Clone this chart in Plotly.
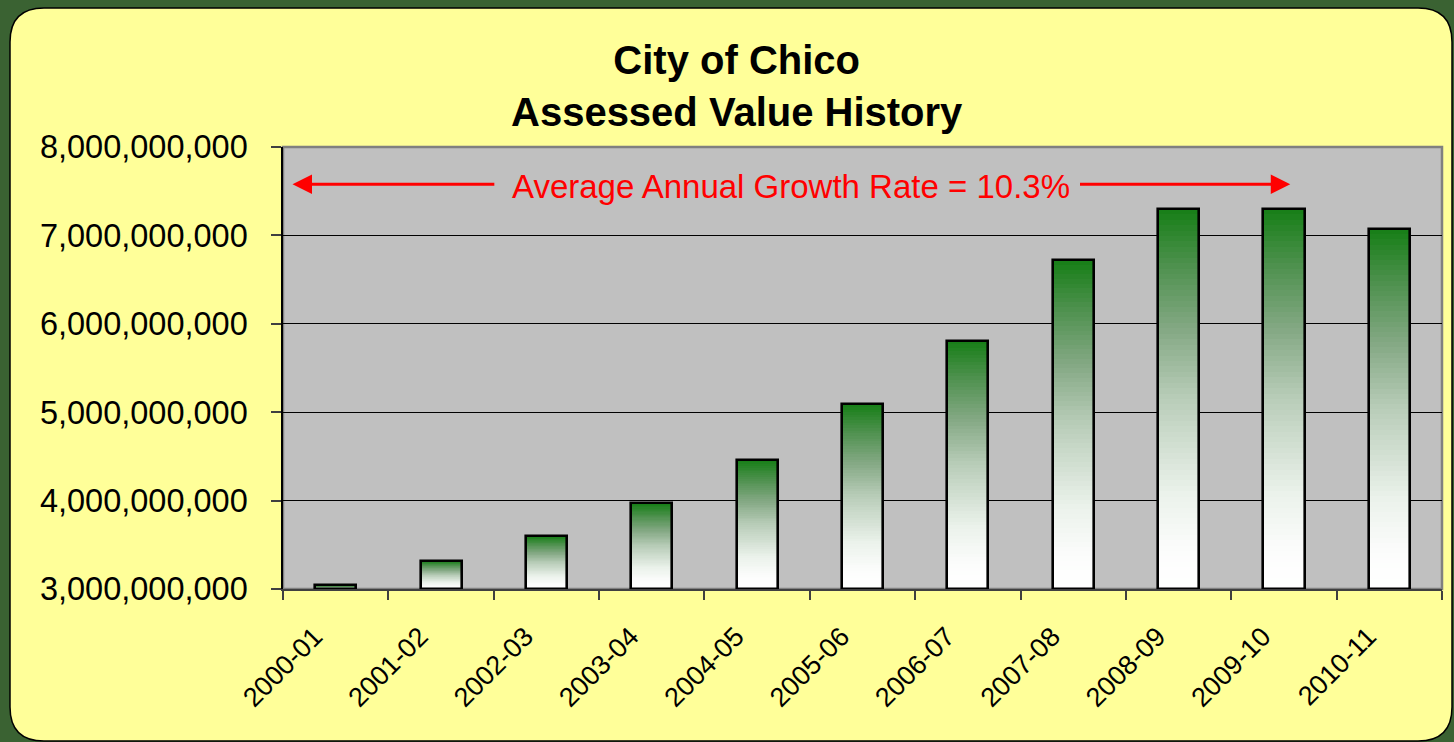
import plotly.graph_objects as go

# ---- data ----
categories = ["2000-01", "2001-02", "2002-03", "2003-04", "2004-05", "2005-06",
              "2006-07", "2007-08", "2008-09", "2009-10", "2010-11"]
assessed_values = [3.04e9, 3.32e9, 3.60e9, 3.97e9, 4.46e9, 5.09e9,
                   5.81e9, 6.72e9, 7.30e9, 7.30e9, 7.07e9]
y_min, y_max, y_step = 3e9, 8e9, 1e9
growth_label = "Average Annual Growth Rate = 10.3%"
title_lines = ["City of Chico", "Assessed Value History"]

# ---- layout geometry (pixels) ----
W, H = 1454, 742
L, R, T, B = 283, 12, 147, 153
PW, PH = W - L - R, H - T - B

def px_x(px):
    return (px - L) / PW

def px_y(py):
    return (H - B - py) / PH

FONT = "Arial, 'Liberation Sans', sans-serif"

# gradient colour stops (fraction of bar height measured from the top -> rgb)
grad_stops = [(0.0, (22, 126, 22)), (0.15, (78, 145, 78)), (0.31, (130, 167, 130)),
              (0.5, (185, 205, 185)), (0.75, (235, 242, 235)),
              (0.9, (252, 253, 252)), (1.0, (255, 255, 255))]

def grad_color(d):
    for (d0, c0), (d1, c1) in zip(grad_stops[:-1], grad_stops[1:]):
        if d0 <= d <= d1:
            f = (d - d0) / (d1 - d0)
            return "rgb(%d,%d,%d)" % tuple(round(c0[i] + f * (c1[i] - c0[i])) for i in range(3))
    return "rgb(255,255,255)"

fig = go.Figure()

# gradient bars: stacked slices of each bar, white at bottom -> green at top
N = 70
heights = [v - y_min for v in assessed_values]
for k in range(N):
    d = 1 - (k + 0.5) / N
    fig.add_trace(go.Bar(
        x=categories,
        y=[h / N * 1.03 for h in heights],
        base=[y_min + h * k / N for h in heights],
        marker=dict(color=grad_color(d), line=dict(width=0)),
        width=0.39,
        hoverinfo="skip",
        showlegend=False,
    ))

# outline of each bar
fig.add_trace(go.Bar(
    x=categories,
    y=heights,
    base=[y_min] * len(heights),
    marker=dict(color="rgba(0,0,0,0)", line=dict(color="black", width=2.6)),
    width=0.39,
    showlegend=False,
    hovertemplate="%{x}: %{customdata:,.0f}<extra></extra>",
    customdata=assessed_values,
))

# ---- background panel (rounded yellow) and gray plot area ----
x0, y0, x1, y1, r = 10, 8, 1452, 741, 34
path = (
    f"M {px_x(x0 + r)},{px_y(y0)} "
    f"L {px_x(x1 - r)},{px_y(y0)} "
    f"Q {px_x(x1)},{px_y(y0)} {px_x(x1)},{px_y(y0 + r)} "
    f"L {px_x(x1)},{px_y(y1 - r)} "
    f"Q {px_x(x1)},{px_y(y1)} {px_x(x1 - r)},{px_y(y1)} "
    f"L {px_x(x0 + r)},{px_y(y1)} "
    f"Q {px_x(x0)},{px_y(y1)} {px_x(x0)},{px_y(y1 - r)} "
    f"L {px_x(x0)},{px_y(y0 + r)} "
    f"Q {px_x(x0)},{px_y(y0)} {px_x(x0 + r)},{px_y(y0)} Z"
)
shapes = [
    dict(type="path", xref="paper", yref="paper", path=path,
         fillcolor="#FFFF99", line=dict(color="black", width=1.5), layer="below"),
    dict(type="rect", xref="paper", yref="paper", x0=0, x1=1, y0=0, y1=1,
         fillcolor="#C0C0C0", line=dict(color="#808080", width=2.5), layer="below"),
]

# ---- annotations ----
n = len(categories)
annotations = [
    dict(xref="paper", yref="paper", x=px_x(737), y=px_y(86),
         text="<b>" + "<br>".join(title_lines) + "</b>", showarrow=False,
         font=dict(family=FONT, size=40, color="black"),
         xanchor="center", yanchor="middle", align="center"),
    dict(xref="x", yref="y", x=4.32, y=7.55e9, text=growth_label, showarrow=False,
         font=dict(family=FONT, size=33, color="#FF0000"),
         xanchor="center", yanchor="middle"),
    dict(xref="x", yref="y", x=-0.41, y=7.58e9, axref="x", ayref="y",
         ax=1.52, ay=7.58e9, text="", showarrow=True, arrowhead=2,
         arrowsize=1.3, arrowwidth=3, arrowcolor="#FF0000", standoff=0),
    dict(xref="x", yref="y", x=9.06, y=7.58e9, axref="x", ayref="y",
         ax=7.05, ay=7.58e9, text="", showarrow=True, arrowhead=2,
         arrowsize=1.3, arrowwidth=3, arrowcolor="#FF0000", standoff=0),
]

fig.update_layout(
    width=W, height=H, autosize=False,
    margin=dict(l=L, r=R, t=T, b=B, pad=0),
    paper_bgcolor="#3A6232",
    plot_bgcolor="rgba(0,0,0,0)",
    barmode="overlay",
    bargap=0,
    shapes=shapes,
    annotations=annotations,
    font=dict(family=FONT, color="black"),
    xaxis=dict(
        type="category", range=[-0.5, n - 0.5],
        tickangle=-45, tickson="boundaries",
        ticks="outside", ticklen=9, tickwidth=1.5, tickcolor="#404040",
        showline=True, linecolor="#404040", linewidth=2,
        showgrid=False, zeroline=False,
        tickfont=dict(family=FONT, size=27, color="black"),
        ticklabelstandoff=19, ticklabelshift=-21,
    ),
    yaxis=dict(
        range=[y_min, y_max], dtick=y_step, tick0=y_min,
        tickformat=",d",
        ticks="outside", ticklen=10, tickwidth=1.5, tickcolor="#404040",
        showline=True, linecolor="black", linewidth=1.5,
        showgrid=True, gridcolor="black", gridwidth=1,
        zeroline=False,
        tickfont=dict(family=FONT, size=32.5, color="black"),
        ticklabelstandoff=17,
    ),
)

fig.write_html("out.html",
               config={"displayModeBar": False},
               post_script="document.body.style.margin='0px';document.body.style.overflow='hidden';")
